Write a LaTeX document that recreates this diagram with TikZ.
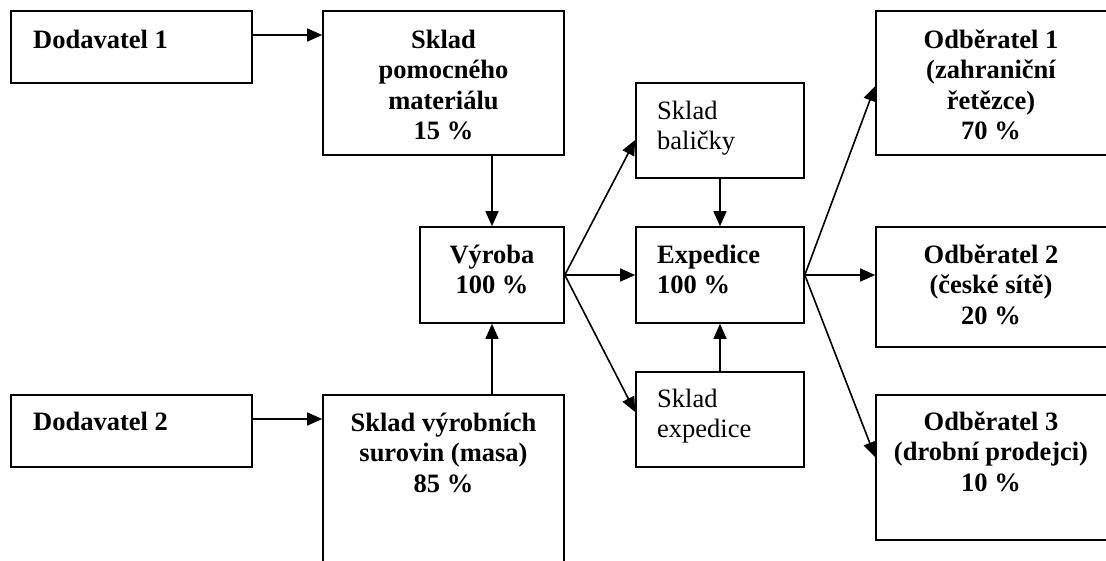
\documentclass[tikz,border=0pt]{standalone}
\usepackage{fontspec}
\setmainfont{Liberation Serif}
\usetikzlibrary{arrows.meta,calc}
\renewcommand\arraystretch{1}
\newcommand\ctext[1]{\begin{tabular}[t]{@{}c@{}}#1\end{tabular}}
\newcommand\ltext[1]{\begin{tabular}[t]{@{}l@{}}#1\end{tabular}}
\begin{document}
\begin{tikzpicture}[x=1pt,y=-1pt,
  box/.style={draw,line width=1.6pt,rectangle,inner sep=0pt},
  txt/.style={inner sep=0pt,anchor=base,font=\fontsize{26.5}{30.5}\selectfont},
  ltxt/.style={txt,anchor=base west},
  flow/.style={line width=1.6pt,-{Triangle[length=15pt,width=13pt]}}]
\useasboundingbox (0,0) rectangle (1106,560);
\clip (0,0) rectangle (1106,560);

% suppliers
\node[box,minimum width=241pt,minimum height=72pt] (d1) at (131.5,47) {};
\node[box,minimum width=241pt,minimum height=72pt] (d2) at (131.5,431) {};
\node[ltxt] (d1t) at (33,48) {\bfseries Dodavatel 1};
\node[ltxt] (d2t) at (33,430) {\bfseries Dodavatel 2};

% storage of inputs
\node[box,minimum width=241pt,minimum height=144pt] (spm) at (443.5,83) {};
\node[txt] (spmt) at (443.5,48) {\bfseries\ctext{Sklad\\pomocného\\materiálu\\15 \%}};
\node[box,minimum width=241pt,minimum height=205pt] (svs) at (443.5,497.5) {};
\node[txt] (svst) at (443.5,431) {\bfseries\ctext{Sklad výrobních\\surovin (masa)\\85 \%}};

% production
\node[box,minimum width=144pt,minimum height=96pt] (vyr) at (492,275) {};
\node[txt] (vyrt) at (492,263) {\bfseries\ctext{Výroba\\100 \%}};

% dispatch
\node[box,minimum width=168pt,minimum height=95pt] (sbal) at (720,130.5) {};
\node[ltxt] (sbalt) at (657,119) {\ltext{Sklad\\baličky}};
\node[box,minimum width=168pt,minimum height=96pt] (exp) at (720,275) {};
\node[ltxt] (expt) at (657,263) {\bfseries\ltext{Expedice\\100 \%}};
\node[box,minimum width=168pt,minimum height=95pt] (sexp) at (720,419.5) {};
\node[ltxt] (sexpt) at (657,407) {\ltext{Sklad\\expedice}};

% customers
\node[box,minimum width=234pt,minimum height=144pt] (o1) at (993,83) {};
\node[txt] (o1t) at (991,48) {\bfseries\ctext{Odběratel 1\\(zahraniční\\řetězce)\\70 \%}};
\node[box,minimum width=234pt,minimum height=120pt] (o2) at (993,287) {};
\node[txt] (o2t) at (991,263) {\bfseries\ctext{Odběratel 2\\(české sítě)\\20 \%}};
\node[box,minimum width=234pt,minimum height=145pt] (o3) at (993,467.5) {};
\node[txt] (o3t) at (991,430) {\bfseries\ctext{Odběratel 3\\(drobní prodejci)\\10 \%}};

% flows
\draw[flow] ([yshift=12pt]d1.east) -- ([yshift=12pt]d1.east -| spm.west);
\draw[flow] ([yshift=12pt]d2.east) -- ([yshift=12pt]d2.east -| svs.west);
\draw[flow] (spm.south -| vyr.north) -- (vyr.north);
\draw[flow] (svs.north -| vyr.south) -- (vyr.south);
\draw[flow] (vyr.east) -- ([yshift=-9.5pt]sbal.west);
\draw[flow] (vyr.east) -- (exp.west);
\draw[flow] (vyr.east) -- ([yshift=7.5pt]sexp.west);
\draw[flow] (sbal.south) -- (exp.north);
\draw[flow] (sexp.north) -- (exp.south);
\draw[flow] (exp.east) -- ([yshift=-3pt]o1.west);
\draw[flow] (exp.east) -- (exp.east -| o2.west);
\draw[flow] (exp.east) -- ([yshift=10.5pt]o3.west);
\end{tikzpicture}
\end{document}
